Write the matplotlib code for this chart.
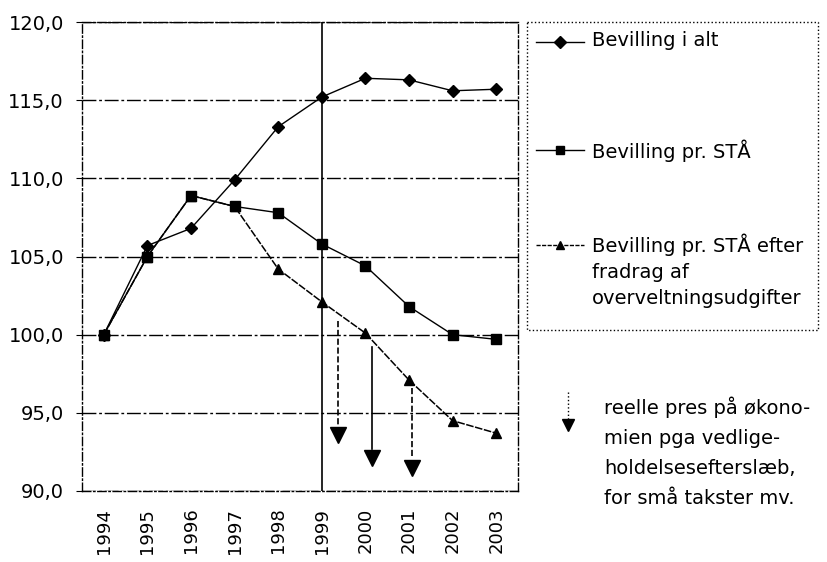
import numpy as np
import matplotlib
matplotlib.use('Agg')
import matplotlib.pyplot as plt
from matplotlib.lines import Line2D
from matplotlib.patches import Rectangle

plt.rcParams['font.family'] = ['DejaVu Sans']

# data (index 1994 = 100)
years = ['1994', '1995', '1996', '1997', '1998',
         '1999', '2000', '2001', '2002', '2003']
bevilling_i_alt = [100.0, 105.7, 106.8, 109.9, 113.3,
                   115.2, 116.4, 116.3, 115.6, 115.7]
bevilling_pr_staa = [100.0, 105.0, 108.9, 108.2, 107.8,
                     105.8, 104.4, 101.8, 100.0, 99.7]
bevilling_efter_fradrag = [100.0, 105.0, 108.9, 108.2, 104.2,
                           102.1, 100.1, 97.1, 94.5, 93.7]
series_labels = ['Bevilling i alt', 'Bevilling pr. STÅ',
                 'Bevilling pr. STÅ efter\nfradrag af\noverveltningsudgifter']
note_text = ('reelle pres på økono-\nmien pga vedlige-\n'
             'holdelsesefterslæb,\nfor små takster mv.')

# arrows showing the real pressure (x in category units)
arrow_x = [5.37, 6.15, 7.07]
arrow_top = [100.9, 99.2, 96.6]
arrow_bottom = [94.2, 92.7, 92.1]
arrow_styles = ['--', '-', '--']

y_ticks = [90, 95, 100, 105, 110, 115, 120]
divider_year = '1999'

fig = plt.figure(figsize=(8.27, 5.62), dpi=100)
ax = fig.add_axes([82 / 827, 1 - 491 / 562, 436 / 827, 469 / 562])

x = np.arange(len(years))
ax.set_xlim(-0.5, len(years) - 0.5)
ax.set_ylim(90, 120)

# grid
for yv in y_ticks:
    ax.axhline(yv, color='black', lw=1, ls=(0, (10, 2, 2, 2)), zorder=1)
ax.axvline(years.index(divider_year), color='black', lw=1.2, zorder=1)

ax.plot(x, bevilling_i_alt, color='black', lw=1, marker='D', ms=6,
        zorder=3)
ax.plot(x, bevilling_pr_staa, color='black', lw=1, marker='s', ms=7,
        zorder=3)
ax.plot(x, bevilling_efter_fradrag, color='black', lw=1.1,
        ls=(0, (5, 1)), marker='^', ms=7, zorder=3)

for ax_x, top, bot, st in zip(arrow_x, arrow_top, arrow_bottom, arrow_styles):
    ax.plot([ax_x, ax_x], [top, bot], color='black', lw=1.2, ls=st, zorder=2)
    ax.plot([ax_x], [bot - 0.6], color='black', marker='v', ms=11, zorder=2)

ax.set_xticks(x)
ax.set_xticklabels(years, rotation=90, fontsize=13)
ax.set_yticks(y_ticks)
ax.set_yticklabels([f'{v:.1f}'.replace('.', ',') for v in y_ticks],
                   fontsize=14)
ax.tick_params(axis='x', length=0, pad=12)
ax.tick_params(axis='y', length=4, pad=9)
for name, sp in ax.spines.items():
    sp.set_linewidth(1)
    sp.set_linestyle((0, (6, 2, 1, 2)))

# legend and note drawn in pixel coordinates of the figure
ov = fig.add_axes([0, 0, 1, 1], zorder=5)
ov.set_xlim(0, 827)
ov.set_ylim(562, 0)
ov.axis('off')
ov.patch.set_alpha(0)

ov.add_patch(Rectangle((527, 22), 291, 308, fill=False, ec='black', lw=1,
                       ls=':'))
legend_y = [42, 150, 245]
legend_markers = ['D', 's', '^']
legend_ls = ['-', '-', (0, (3, 1))]
for ly, lab, mk, st in zip(legend_y, series_labels, legend_markers, legend_ls):
    ov.add_line(Line2D([536, 584], [ly, ly], color='black', lw=1, ls=st))
    ov.plot([560], [ly], color='black', marker=mk, ms=6)
    ov.text(592, ly - 11, lab, fontsize=14, va='top', ha='left',
            linespacing=1.45)

ov.add_line(Line2D([568, 568], [392, 420], color='black', lw=1, ls=':'))
ov.plot([568], [425], color='black', marker='v', ms=9)
ov.text(604, 396, note_text, fontsize=14, va='top', ha='left',
        linespacing=1.75)

fig.savefig('out.png', dpi=100)
